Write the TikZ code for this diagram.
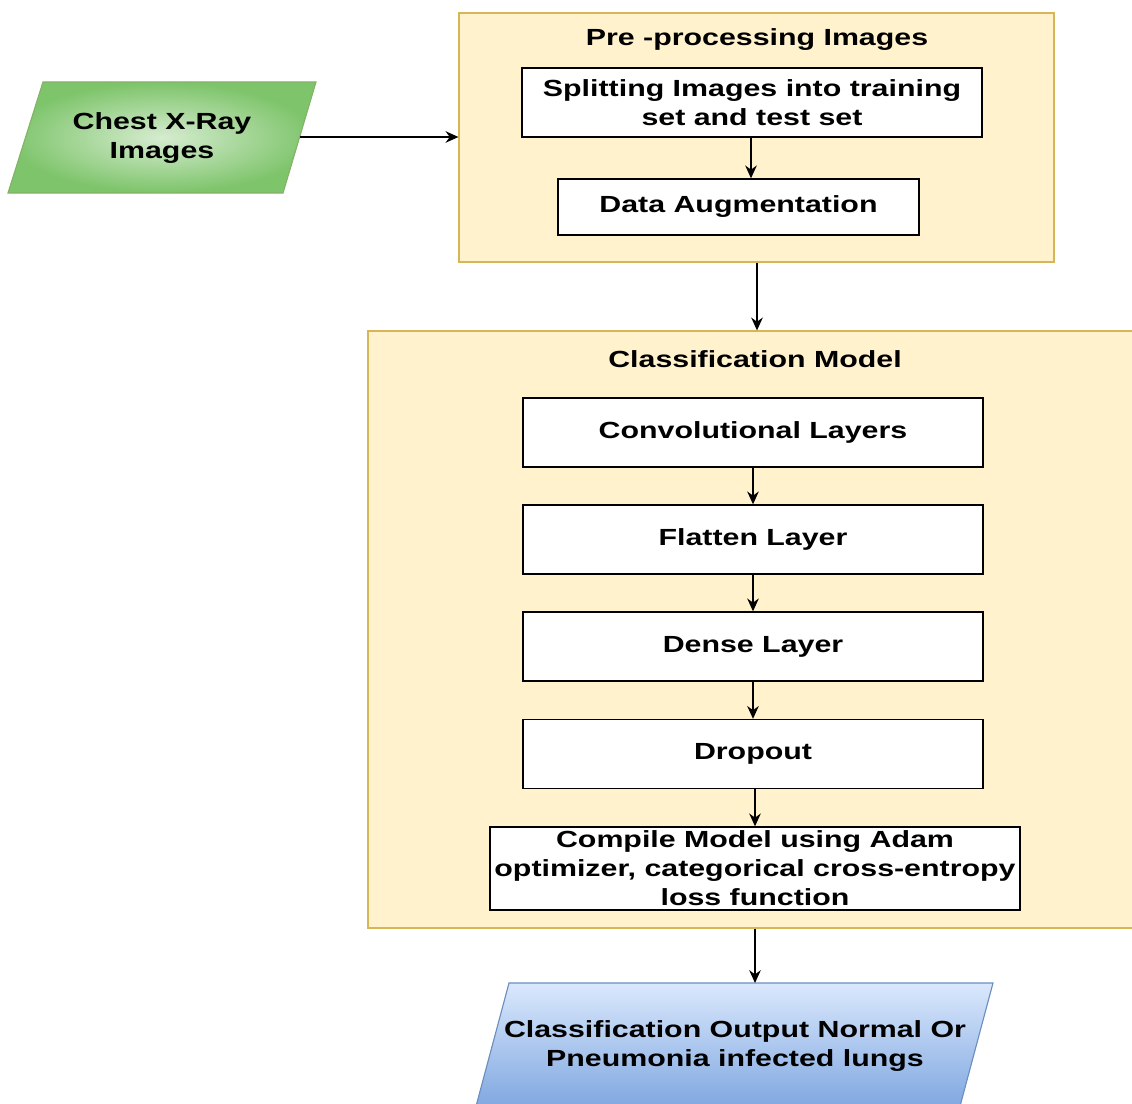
\documentclass[tikz,border=0pt]{standalone}
\usepackage{fontspec}
\setmainfont{Liberation Sans}[FakeStretch=1.3]
\usetikzlibrary{arrows.meta}

\definecolor{groupfill}{HTML}{FFF2CC}
\definecolor{groupline}{HTML}{D6B656}
\definecolor{greenin}{RGB}{214,236,208}
\definecolor{greenout}{RGB}{125,196,106}
\definecolor{greenline}{HTML}{82B366}
\definecolor{bluetop}{HTML}{DAE8FC}
\definecolor{bluebot}{HTML}{7EA6E0}
\definecolor{blueline}{HTML}{6C8EBF}

\begin{document}
\begin{tikzpicture}[x=0.025cm,y=-0.025cm,
  every node/.style={font=\fontsize{16.6pt}{20.6pt}\selectfont\bfseries,
    align=center, inner sep=0pt},
  group/.style={draw=groupline, fill=groupfill, line width=0.9pt},
  stepbox/.style={draw=black, fill=white, line width=1pt},
  flow/.style={-{Stealth[length=3.2mm,width=2.9mm]}, line width=0.9pt},
]
\useasboundingbox (0,0) rectangle (1132,1104);
\clip (0,0) rectangle (1132,1104);

% containers
\node[group, minimum width=595*0.025cm, minimum height=249*0.025cm]
  (pre) at (756.5,137.5) {};
\node (preT) at (757,40) {Pre -processing Images};
\node[group, minimum width=772*0.025cm, minimum height=597*0.025cm]
  (cls) at (754,629.5) {};
\node (clsT) at (755,359) {Classification Model};

% pre-processing steps
\node[stepbox, minimum width=460*0.025cm, minimum height=69*0.025cm]
  (split) at (752,102.5) {Splitting Images into training\\set and test set};
\node[stepbox, minimum width=361*0.025cm, minimum height=56*0.025cm]
  (aug) at (738.5,207) {Data Augmentation};

% model steps
\node[stepbox, minimum width=460*0.025cm, minimum height=69*0.025cm]
  (conv) at (753,432.5) {Convolutional Layers};
\node[stepbox, minimum width=460*0.025cm, minimum height=69*0.025cm]
  (flat) at (753,539.5) {Flatten Layer};
\node[stepbox, minimum width=460*0.025cm, minimum height=69*0.025cm]
  (dense) at (753,646.5) {Dense Layer};
\node[stepbox, minimum width=460*0.025cm, minimum height=69*0.025cm]
  (drop) at (753,754) {Dropout};
\node[stepbox, minimum width=530*0.025cm, minimum height=83*0.025cm]
  (comp) at (755,868.5) {Compile Model using Adam\\optimizer, categorical cross-entropy\\loss function};

% input parallelogram
\coordinate (inA) at (43,82);
\coordinate (inB) at (316,82);
\coordinate (inC) at (283,193);
\coordinate (inD) at (8,193);
\shade[inner color=greenin, outer color=greenout] (inA) -- (inB) -- (inC) -- (inD) -- cycle;
\draw[greenline, line width=0.8pt] (inA) -- (inB) -- (inC) -- (inD) -- cycle;
\node (src) at (162,138) {Chest X-Ray\\Images};
\coordinate (srcR) at (299.5,137);

% output parallelogram
\coordinate (outA) at (509,983);
\coordinate (outB) at (993,983);
\coordinate (outC) at (959,1110);
\coordinate (outD) at (475,1110);
\shade[top color=bluetop, bottom color=bluebot] (outA) -- (outB) -- (outC) -- (outD) -- cycle;
\draw[blueline, line width=0.8pt] (outA) -- (outB) -- (outC) -- (outD) -- cycle;
\node (res) at (735,1046) {Classification Output Normal Or\\Pneumonia infected lungs};
\coordinate (resT) at (755,983);

% connectors
\draw[flow] (srcR) -- (pre.west |- srcR);
\draw[flow] (split.south -| 751,0) -- (aug.north -| 751,0);
\draw[flow] (pre.south -| 757,0) -- (cls.north -| 757,0);
\draw[flow] (conv.south) -- (flat.north);
\draw[flow] (flat.south) -- (dense.north);
\draw[flow] (dense.south) -- (drop.north);
\draw[flow] (drop.south -| comp.north) -- (comp.north);
\draw[flow] (cls.south -| resT) -- (resT);
\end{tikzpicture}
\end{document}
